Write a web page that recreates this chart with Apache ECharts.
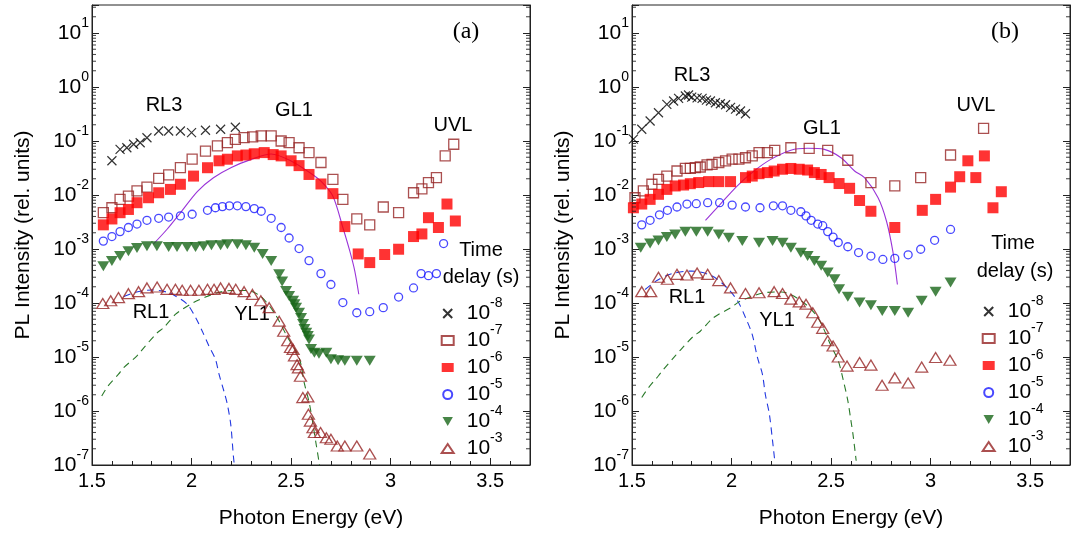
<!DOCTYPE html>
<html>
<head>
<meta charset="utf-8">
<script src="https://cdn.jsdelivr.net/npm/echarts@6/dist/echarts.min.js"></script>
<style>
  html, body { margin: 0; padding: 0; background: #fff; }
  #chart { width: 1084px; height: 535px; }
</style>
</head>
<body>
<div id="chart"></div>
<script>
  'use strict'

  // time delay names, one per symbol
  var delays = ['1e-8', '1e-7', '1e-6', '1e-5', '1e-4', '1e-3'];
  // log minor tick multipliers and decades
  var minorMult = [2, 3, 4, 5, 6, 7, 8, 9];
  var decades = [-7, -6, -5, -4, -3, -2, -1, 0, 1];

  /* ---- panel (a) : [photon energy eV, intensity] ---- */
  var a_m8 = [[1.60,0.043],[1.641,0.070],[1.675,0.075],[1.709,0.087],[1.742,0.093],[1.776,0.115],[1.835,0.153],[1.885,0.153],[1.944,0.153],[2.00,0.143],[2.07,0.158],[2.146,0.165],[2.22,0.18]];
  var a_m7 = [[1.557,0.0047],[1.60,0.0058],[1.641,0.0083],[1.683,0.0095],[1.726,0.0119],[1.776,0.014],[1.835,0.0204],[1.885,0.0235],[1.944,0.032],[2.003,0.046],[2.07,0.065],[2.13,0.081],[2.18,0.093],[2.22,0.107],[2.264,0.115],[2.307,0.119],[2.35,0.124],[2.40,0.124],[2.45,0.10],[2.49,0.093],[2.54,0.075],[2.59,0.061],[2.65,0.040],[2.71,0.0195],[2.76,0.0083],[2.83,0.0036],[2.895,0.0028],[2.963,0.006],[3.04,0.0047],[3.115,0.011],[3.157,0.013],[3.19,0.017],[3.23,0.021],[3.274,0.053],[3.317,0.087]];
  var a_m6 = [[1.557,0.0028],[1.60,0.0036],[1.641,0.0047],[1.683,0.0054],[1.726,0.0072],[1.784,0.0089],[1.835,0.011],[1.894,0.0127],[1.944,0.0158],[2.01,0.0224],[2.08,0.032],[2.138,0.043],[2.18,0.046],[2.23,0.053],[2.273,0.055],[2.315,0.058],[2.365,0.061],[2.41,0.056],[2.45,0.053],[2.50,0.043],[2.54,0.035],[2.59,0.024],[2.65,0.016],[2.71,0.0106],[2.77,0.0026],[2.837,0.00081],[2.895,0.00056],[2.97,0.00079],[3.04,0.00099],[3.115,0.0017],[3.157,0.0019],[3.19,0.0038],[3.24,0.0025],[3.283,0.0068],[3.325,0.0033]];
  var a_m5 = [[1.557,0.0014],[1.60,0.0017],[1.641,0.0021],[1.683,0.0025],[1.726,0.0029],[1.776,0.0034],[1.835,0.0037],[1.885,0.0039],[1.944,0.0041],[2.003,0.0044],[2.08,0.0052],[2.12,0.0058],[2.155,0.0061],[2.19,0.0063],[2.23,0.0063],[2.273,0.0061],[2.315,0.0056],[2.35,0.005],[2.40,0.0037],[2.45,0.0025],[2.49,0.0016],[2.54,0.00102],[2.59,0.00061],[2.65,0.00035],[2.70,0.00022],[2.76,0.000102],[2.83,0.000066],[2.895,0.000069],[2.963,0.000082],[3.04,0.000129],[3.115,0.00019],[3.153,0.00035],[3.19,0.00032],[3.23,0.00035],[3.266,0.00126]];
  var a_m4 = [[1.557,4.8e-4],[1.60,6.0e-4],[1.641,7.4e-4],[1.683,9.1e-4],[1.726,1.04e-3],[1.776,1.13e-3],[1.826,1.13e-3],[1.885,1.09e-3],[1.927,1.09e-3],[1.978,1.09e-3],[2.02,1.09e-3],[2.06,1.13e-3],[2.10,1.17e-3],[2.146,1.17e-3],[2.18,1.22e-3],[2.23,1.22e-3],[2.273,1.17e-3],[2.315,1.05e-3],[2.357,8.1e-4],[2.40,6.0e-4],[2.44,3.4e-4],[2.455,2.5e-4],[2.475,1.66e-4],[2.49,1.35e-4],[2.51,1.1e-4],[2.517,9.5e-5],[2.525,8.2e-5],[2.54,6.6e-5],[2.55,5.3e-5],[2.56,4.1e-5],[2.567,3.3e-5],[2.576,2.8e-5],[2.584,2.45e-5],[2.59,2.1e-5],[2.60,1.4e-5],[2.617,1.2e-5],[2.64,1.15e-5],[2.677,1.2e-5],[2.70,9.1e-6],[2.736,8.7e-6],[2.77,8.5e-6],[2.83,8.5e-6],[2.895,8.5e-6]];
  var a_m3 = [[1.554,9.8e-5],[1.594,1.1e-4],[1.633,1.26e-4],[1.683,1.49e-4],[1.734,1.62e-4],[1.776,1.9e-4],[1.827,1.98e-4],[1.877,1.79e-4],[1.919,1.79e-4],[1.953,1.72e-4],[1.995,1.72e-4],[2.037,1.72e-4],[2.08,1.79e-4],[2.113,1.79e-4],[2.146,1.9e-4],[2.188,1.86e-4],[2.222,1.79e-4],[2.264,1.62e-4],[2.306,1.44e-4],[2.348,1.1e-4],[2.39,8.2e-5],[2.44,4.6e-5],[2.463,3.0e-5],[2.483,2.0e-5],[2.497,1.5e-5],[2.51,1.38e-5],[2.517,1.05e-5],[2.53,7.2e-6],[2.537,6.3e-6],[2.547,4.4e-6],[2.559,1.77e-6],[2.584,1.83e-6],[2.587,8.7e-7],[2.597,6.5e-7],[2.61,4.9e-7],[2.617,4.0e-7],[2.648,4.0e-7],[2.677,3.2e-7],[2.70,3.0e-7],[2.732,2.25e-7],[2.77,2.25e-7],[2.83,2.25e-7],[2.895,1.6e-7]];
  // fitted bands (a)
  var a_gl1 = [[1.808,1.23e-3],[1.877,2.32e-3],[1.944,4.68e-3],[2.03,0.0117],[2.11,0.0209],[2.20,0.0324],[2.30,0.0457],[2.40,0.0575],[2.50,0.0427],[2.60,0.025],[2.65,0.018],[2.71,0.0095],[2.76,0.0025],[2.795,9.1e-4],[2.82,3.9e-4],[2.84,1.45e-4]];
  var a_rl1 = [[1.66,1.32e-4],[1.72,1.58e-4],[1.80,1.74e-4],[1.88,1.58e-4],[1.919,1.35e-4],[1.978,9.5e-5],[2.02,5.4e-5],[2.054,3.0e-5],[2.088,1.58e-5],[2.12,9.1e-6],[2.138,4.8e-6],[2.163,2.3e-6],[2.18,1.32e-6],[2.197,5.6e-7],[2.21,1.48e-7],[2.215,1e-7]];
  var a_yl1 = [[1.549,1.9e-6],[1.58,2.9e-6],[1.633,4.8e-6],[1.658,6.3e-6],[1.726,1.05e-5],[1.76,1.48e-5],[1.827,2.8e-5],[1.86,3.5e-5],[1.92,6.2e-5],[1.953,7.6e-5],[2.01,1.02e-4],[2.07,1.29e-4],[2.13,1.55e-4],[2.20,1.7e-4],[2.28,1.7e-4],[2.35,1.3e-4],[2.42,6.2e-5],[2.48,2.4e-5],[2.54,9.8e-6],[2.567,3.2e-6],[2.593,1.32e-6],[2.626,2.4e-7],[2.643,1.0e-7]];

  /* ---- panel (b) ---- */
  var b_m8 = [[1.507,0.108],[1.549,0.165],[1.591,0.235],[1.633,0.334],[1.675,0.478],[1.709,0.55],[1.734,0.616],[1.768,0.68],[1.784,0.71],[1.80,0.65],[1.827,0.63],[1.852,0.616],[1.874,0.57],[1.894,0.55],[1.919,0.51],[1.944,0.49],[1.97,0.47],[1.995,0.42],[2.02,0.39],[2.045,0.36],[2.07,0.32]];
  var b_m7 = [[1.515,0.0089],[1.557,0.0119],[1.60,0.0158],[1.633,0.0195],[1.675,0.0224],[1.726,0.0278],[1.768,0.031],[1.793,0.031],[1.818,0.032],[1.843,0.033],[1.877,0.036],[1.902,0.037],[1.936,0.040],[1.97,0.043],[2.003,0.046],[2.037,0.046],[2.07,0.049],[2.104,0.053],[2.138,0.061],[2.18,0.061],[2.217,0.067],[2.298,0.075],[2.39,0.073],[2.483,0.067],[2.584,0.044],[2.70,0.017],[2.82,0.0147],[2.95,0.021],[3.10,0.055],[3.266,0.172]];
  var b_m6 = [[1.507,0.0058],[1.549,0.0068],[1.591,0.0083],[1.633,0.0103],[1.675,0.0127],[1.717,0.0147],[1.759,0.0153],[1.793,0.0162],[1.835,0.017],[1.885,0.0177],[1.936,0.0177],[1.995,0.0177],[2.07,0.021],[2.104,0.0224],[2.138,0.0248],[2.18,0.026],[2.214,0.0278],[2.256,0.030],[2.298,0.031],[2.34,0.030],[2.382,0.029],[2.416,0.026],[2.45,0.024],[2.49,0.021],[2.54,0.0163],[2.593,0.0133],[2.643,0.0079],[2.70,0.005],[2.82,0.0025],[2.958,0.0052],[3.025,0.0083],[3.10,0.014],[3.146,0.0218],[3.187,0.043],[3.227,0.021],[3.27,0.053],[3.313,0.0058],[3.355,0.0115]];
  var b_m5 = [[1.549,0.0028],[1.591,0.0034],[1.638,0.0043],[1.678,0.0052],[1.726,0.006],[1.776,0.0068],[1.823,0.0069],[1.88,0.0072],[1.94,0.0072],[2.003,0.0065],[2.07,0.006],[2.143,0.0058],[2.21,0.0063],[2.256,0.0063],[2.298,0.0052],[2.348,0.0049],[2.374,0.0041],[2.40,0.0034],[2.433,0.0029],[2.458,0.0027],[2.483,0.0021],[2.51,0.00166],[2.536,0.00132],[2.584,0.0011],[2.638,0.00086],[2.70,0.00074],[2.76,0.00064],[2.82,0.00067],[2.887,0.00078],[2.95,0.00099],[3.02,0.00145],[3.10,0.0023]];
  var b_m4 = [[1.544,1.06e-3],[1.591,1.26e-3],[1.633,1.44e-3],[1.675,1.66e-3],[1.717,1.86e-3],[1.768,2.08e-3],[1.823,2.08e-3],[1.88,2.08e-3],[1.936,1.86e-3],[1.986,1.62e-3],[2.054,1.4e-3],[2.138,1.31e-3],[2.206,1.4e-3],[2.256,1.31e-3],[2.298,1.06e-3],[2.348,8.5e-4],[2.382,7.4e-4],[2.416,6.0e-4],[2.45,4.9e-4],[2.483,3.67e-4],[2.517,2.74e-4],[2.54,1.8e-4],[2.584,1.3e-4],[2.643,1.02e-4],[2.70,9.1e-5],[2.757,7.1e-5],[2.82,7.1e-5],[2.887,6.6e-5],[2.955,1.1e-4],[3.025,1.62e-4],[3.10,2.4e-4]];
  var b_m3 = [[1.549,1.62e-4],[1.594,1.62e-4],[1.633,3.0e-4],[1.678,2.75e-4],[1.726,3.4e-4],[1.776,3.3e-4],[1.827,3.6e-4],[1.88,3.4e-4],[1.936,2.6e-4],[1.995,1.9e-4],[2.07,1.5e-4],[2.138,1.55e-4],[2.214,1.62e-4],[2.256,1.5e-4],[2.298,1.18e-4],[2.34,1.05e-4],[2.374,9.5e-5],[2.408,6.6e-5],[2.433,4.4e-5],[2.458,3.4e-5],[2.483,2.0e-5],[2.51,1.6e-5],[2.536,1.0e-5],[2.58,6.8e-6],[2.643,7.9e-6],[2.70,7.1e-6],[2.756,3.0e-6],[2.82,4.1e-6],[2.887,3.3e-6],[2.955,6.5e-6],[3.025,9.8e-6],[3.097,8.7e-6]];
  var b_gl1 = [[1.869,3.4e-3],[1.944,6.8e-3],[2.029,0.0148],[2.113,0.0278],[2.197,0.0457],[2.298,0.0676],[2.382,0.0733],[2.466,0.070],[2.55,0.049],[2.618,0.0278],[2.668,0.0209],[2.736,0.0089],[2.778,0.0033],[2.81,9.1e-4],[2.833,2.2e-4]];
  var b_rl1 = [[1.566,1.78e-4],[1.625,2.6e-4],[1.70,3.5e-4],[1.80,3.9e-4],[1.90,3.2e-4],[1.978,1.9e-4],[2.03,1.1e-4],[2.07,5.4e-5],[2.104,2.6e-5],[2.13,9.8e-6],[2.155,4.8e-6],[2.17,2.0e-6],[2.19,8.7e-7],[2.206,2.8e-7],[2.217,1.2e-7]];
  var b_yl1 = [[1.549,1.78e-6],[1.583,2.7e-6],[1.633,4.5e-6],[1.658,5.9e-6],[1.717,1.05e-5],[1.751,1.45e-5],[1.81,2.45e-5],[1.843,3.0e-5],[1.90,5.0e-5],[1.936,6.2e-5],[1.995,8.1e-5],[2.037,1.05e-4],[2.088,1.26e-4],[2.163,1.55e-4],[2.25,1.6e-4],[2.35,1.1e-4],[2.433,5.4e-5],[2.50,1.6e-5],[2.536,8.5e-6],[2.56,3.9e-6],[2.584,1.55e-6],[2.60,6.5e-7],[2.61,3.7e-7],[2.626,1.2e-7]];

  var FONT = '"Liberation Sans", Arial, sans-serif';
  var DRED = '#962424';
  var X_MIN = 1.5, X_MAX = 3.7, Y_MIN = 1e-7, Y_MAX = 33;

  var looks = {
    '1e-8': { symbol: 'path://M0,0L10,10M10,0L0,10', size: 9, item: { color: 'rgba(0,0,0,0)', borderColor: '#000', borderWidth: 1.2 } },
    '1e-7': { symbol: 'rect', size: 10, item: { color: 'rgba(0,0,0,0)', borderColor: DRED, borderWidth: 1.3 } },
    '1e-6': { symbol: 'rect', size: 11, item: { color: '#ff0000' } },
    '1e-5': { symbol: 'circle', size: 8, item: { color: 'rgba(0,0,0,0)', borderColor: '#1a1aff', borderWidth: 1.3 } },
    '1e-4': { symbol: 'triangle', size: [12, 10], rotate: 180, item: { color: '#196619' } },
    '1e-3': { symbol: 'triangle', size: [12, 10], item: { color: 'rgba(0,0,0,0)', borderColor: DRED, borderWidth: 1.3 } }
  };

  function sup(exp) { return '{b|10}{s|' + exp + '}'; }
  var richSup = {
    b: { fontSize: 21, fontFamily: FONT, color: '#000' },
    s: { fontSize: 14, fontFamily: FONT, color: '#000', padding: [0, 0, 20, 0] }
  };

  function scatter(name, data, gi) {
    var lk = looks[name];
    return {
      type: 'scatter', name: name, xAxisIndex: gi, yAxisIndex: gi * 2, data: data,
      symbol: lk.symbol, symbolSize: lk.size, symbolRotate: lk.rotate || 0,
      itemStyle: lk.item, z: 3, silent: true
    };
  }
  function fit(data, gi, color, dashed) {
    return {
      type: 'line', xAxisIndex: gi, yAxisIndex: gi * 2, data: data, showSymbol: false, symbol: 'none',
      smooth: 0.3, lineStyle: { color: color, width: 1.1, type: dashed ? [7, 5] : 'solid' }, z: 2, silent: true
    };
  }

  // log minor ticks (2..9 x 10^n) drawn as short dashes on both y axes
  function minorAt(x) {
    var out = [];
    decades.forEach(function (d) {
      minorMult.forEach(function (m) {
        var v = m * Math.pow(10, d);
        if (v < Y_MAX) out.push([x, v]);
      });
    });
    return out;
  }
  function minorTicks(gi, right) {
    return {
      type: 'scatter', xAxisIndex: gi, yAxisIndex: gi * 2, data: minorAt(right ? X_MAX : X_MIN),
      symbol: 'rect', symbolSize: [4, 1.1], symbolOffset: [right ? -2 : 2, 0],
      itemStyle: { color: '#222' }, silent: true, clip: false, z: 5
    };
  }

  function xAxis(gi) {
    return {
      type: 'value', gridIndex: gi, min: X_MIN, max: X_MAX, interval: 0.5,
      name: 'Photon Energy (eV)', nameLocation: 'middle', nameGap: 43,
      nameTextStyle: { fontSize: 21, color: '#000', fontFamily: FONT },
      axisLine: { lineStyle: { color: '#222' } },
      axisTick: { inside: true, length: 7, lineStyle: { color: '#222' } },
      minorTick: { show: true, splitNumber: 5, length: 4, lineStyle: { color: '#222' } },
      splitLine: { show: false },
      axisLabel: { fontSize: 20, color: '#000', fontFamily: FONT, margin: 6, showMaxLabel: false }
    };
  }
  function yAxis(gi, right) {
    var ax = {
      type: 'log', gridIndex: gi, min: Y_MIN, max: Y_MAX, logBase: 10, splitNumber: 8,
      position: right ? 'right' : 'left',
      axisLine: { show: true, lineStyle: { color: '#222' } },
      axisTick: { show: true, inside: true, length: 7, lineStyle: { color: '#222' } },
      splitLine: { show: false }
    };
    if (right) {
      ax.axisLabel = { show: false };
    } else {
      ax.name = 'PL Intensity (rel. units)';
      ax.nameLocation = 'middle';
      ax.nameGap = 58;
      ax.nameTextStyle = { fontSize: 21, color: '#000', fontFamily: FONT };
      ax.axisLabel = {
        margin: 3, lineHeight: 20, rich: richSup,
        formatter: function (v) {
          var e = Math.log10(v), r = Math.round(e);
          return Math.abs(e - r) < 1e-6 ? sup(r) : '';
        }
      };
    }
    return ax;
  }

  function legend(left, top) {
    return {
      left: left, top: top, orient: 'vertical', padding: 0, selectedMode: false,
      data: delays.map(function (d) {
        return d === '1e-4' ? { name: d, icon: 'path://M0,0L10,0L5,8.7Z' } : { name: d };
      }),
      itemWidth: 12, itemHeight: 9, itemGap: -0.5,
      formatter: function (name) { return sup(Math.round(Math.log10(+name))); },
      textStyle: {
        lineHeight: 20,
        rich: {
          b: { fontSize: 21, fontFamily: FONT, color: '#000', padding: [0, 0, 0, 8] },
          s: { fontSize: 14, fontFamily: FONT, color: '#000', padding: [0, 0, 20, 0] }
        }
      }
    };
  }

  function label(x, y, text, size, serif) {
    return {
      type: 'text', x: x, y: y, silent: true,
      style: {
        text: text, fill: '#000', align: 'center', verticalAlign: 'middle',
        font: size + 'px ' + (serif ? '"Liberation Serif", "Times New Roman", serif' : FONT)
      }
    };
  }

  var series = [];
  var panels = [
    [a_m8, a_m7, a_m6, a_m5, a_m4, a_m3, a_gl1, a_rl1, a_yl1],
    [b_m8, b_m7, b_m6, b_m5, b_m4, b_m3, b_gl1, b_rl1, b_yl1]
  ];
  panels.forEach(function (p, gi) {
    series.push(minorTicks(gi, false));
    series.push(minorTicks(gi, true));
    series.push(fit(p[6], gi, '#9a34d8', false));
    series.push(fit(p[7], gi, '#2238e0', true));
    series.push(fit(p[8], gi, '#2a7a2a', true));
    delays.forEach(function (d, k) { series.push(scatter(d, p[k], gi)); });
  });

  var chart = echarts.init(document.getElementById('chart'));
  var option = {
    backgroundColor: '#fff',
    animation: false,
    textStyle: { fontFamily: FONT },
    grid: [
      { left: 92, top: 5, width: 438, height: 460, show: true, borderColor: '#222', borderWidth: 1 },
      { left: 632, top: 5, width: 438, height: 460, show: true, borderColor: '#222', borderWidth: 1 }
    ],
    xAxis: [xAxis(0), xAxis(1)],
    yAxis: [yAxis(0, false), yAxis(0, true), yAxis(1, false), yAxis(1, true)],
    legend: [legend(440.7, 296.5), legend(981.7, 294.5)],
    graphic: [
      label(164, 105, 'RL3', 20), label(294, 110, 'GL1', 20), label(453, 125, 'UVL', 20),
      label(466, 32, '(a)', 24, true), label(151, 312, 'RL1', 20), label(252, 314, 'YL1', 20),
      label(481, 250, 'Time', 20), label(481, 277, 'delay (s)', 20),
      label(692, 75, 'RL3', 20), label(822, 128, 'GL1', 20), label(976, 105, 'UVL', 20),
      label(1005, 32, '(b)', 24, true), label(687, 297, 'RL1', 20), label(777, 320, 'YL1', 20),
      label(1013, 243, 'Time', 20), label(1015, 271, 'delay (s)', 20)
    ],
    series: series
  };
  chart.setOption(option);
  window.addEventListener('resize', function () { chart.resize(); });
</script>
</body>
</html>
